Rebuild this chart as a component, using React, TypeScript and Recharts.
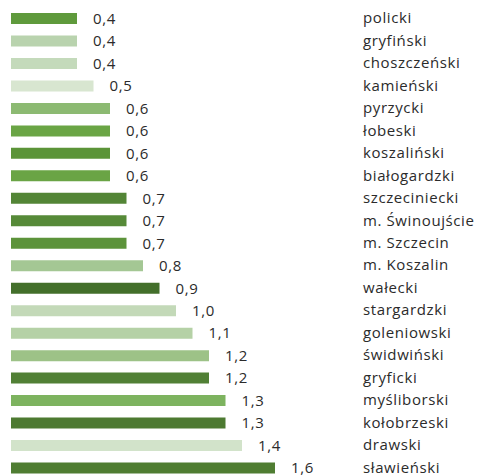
import { BarChart, Bar, XAxis, YAxis, LabelList, Cell } from "recharts";

const powiaty = [
  "policki", "gryfiński", "choszczeński", "kamieński", "pyrzycki", "łobeski",
  "koszaliński", "białogardzki", "szczeciniecki", "m. Świnoujście", "m. Szczecin",
  "m. Koszalin", "wałecki", "stargardzki", "goleniowski", "świdwiński", "gryficki",
  "myśliborski", "kołobrzeski", "drawski", "sławieński",
];

const wartosci = [
  0.4, 0.4, 0.4, 0.5, 0.6, 0.6, 0.6, 0.6, 0.7, 0.7, 0.7,
  0.8, 0.9, 1.0, 1.1, 1.2, 1.2, 1.3, 1.3, 1.4, 1.6,
];

const BAR_COLORS = [
  "#5f9a3c", "#b9d3ae", "#c4dabb", "#d8e6d0", "#8cba72", "#6aa545",
  "#5b9438", "#6aa445", "#538536", "#568a38", "#5c933a", "#a4c794",
  "#436f2b", "#c3d9b8", "#b5d1a6", "#9dc287", "#518035", "#7db35f",
  "#4d7a31", "#d2e3ca", "#4f7d32",
];

const data = powiaty.map((name, i) => ({ name, value: wartosci[i] }));

const FONT = "'Open Sans', sans-serif";
const TEXT = "#2b2b2b";

function NameTick({ x, y, payload }: any) {
  return (
    <text
      x={x + 14}
      y={y}
      dy={5}
      textAnchor="start"
      fontFamily={FONT}
      fontSize={15}
      letterSpacing={0.6}
      fill={TEXT}
    >
      {payload.value}
    </text>
  );
}

export default function App() {
  return (
    <div style={{ position: "absolute", left: 0, top: 0, width: 479, height: 475, overflow: "hidden", background: "#fff" }}>
      <BarChart
        width={479}
        height={480}
        data={data}
        layout="vertical"
        margin={{ top: 7, right: 0, left: 11, bottom: 1 }}
        barCategoryGap={0}
      >
        <XAxis type="number" domain={[0, 2]} hide />
        <YAxis
          yAxisId="left"
          type="category"
          dataKey="name"
          width={0}
          tick={false}
          tickLine={false}
          axisLine={{ stroke: "#a6a6a6", strokeWidth: 1.5 }}
        />
        <YAxis
          yAxisId="right"
          type="category"
          dataKey="name"
          orientation="right"
          width={138}
          interval={0}
          tick={<NameTick />}
          tickLine={false}
          axisLine={false}
        />
        <Bar yAxisId="left" dataKey="value" barSize={11} isAnimationActive={false}>
          {data.map((_, i) => (
            <Cell key={i} fill={BAR_COLORS[i]} />
          ))}
          <LabelList
            dataKey="value"
            position="right"
            offset={16}
            formatter={(v: any) => Number(v).toFixed(1).replace(".", ",")}
            style={{ fontFamily: FONT, fontSize: 15, letterSpacing: 0.6, fill: TEXT }}
          />
        </Bar>
      </BarChart>
    </div>
  );
}
